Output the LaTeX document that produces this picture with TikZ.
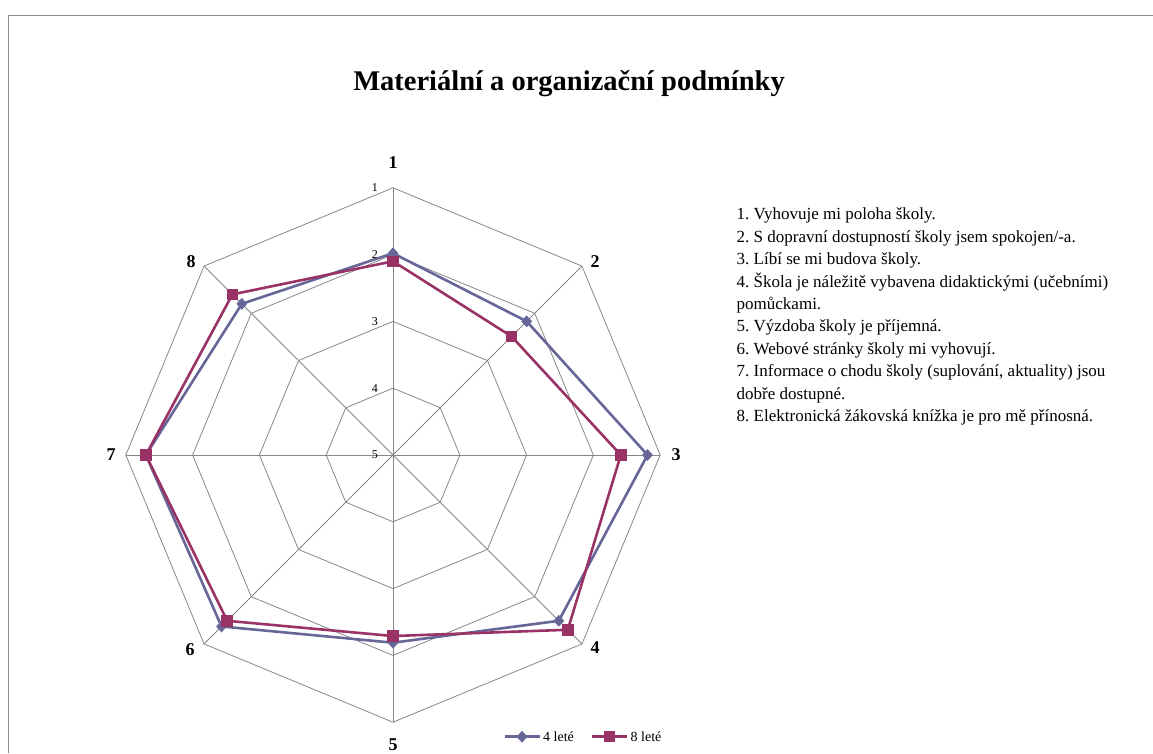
\documentclass[tikz,border=0pt]{standalone}
\usepackage{fontspec}
\setmainfont{Liberation Serif}
\usetikzlibrary{shapes.geometric}
\definecolor{ser1}{HTML}{666699}
\definecolor{ser2}{HTML}{993366}
\definecolor{gridc}{HTML}{878787}
\definecolor{framec}{HTML}{8C8C8C}
\frenchspacing
\begin{document}
\begin{tikzpicture}[x=1pt,y=1pt,
  gridline/.style={draw=gridc, line width=0.8pt},
  axlabel/.style={font=\fontsize{18}{20}\selectfont\bfseries, inner sep=0pt},
  ticklabel/.style={font=\fontsize{12}{12}\selectfont, inner sep=0pt, anchor=east},
  listline/.style={font=\fontsize{17}{20}\selectfont, inner sep=0pt, anchor=base west},
  serA/.style={draw=ser1, line width=2.6pt, line join=round},
  serB/.style={draw=ser2, line width=2.6pt, line join=round},
  markA/.style={diamond, fill=ser1, inner sep=0pt, minimum width=11pt, minimum height=12pt},
  markB/.style={rectangle, fill=ser2, inner sep=0pt, minimum size=11.5pt},
  legtext/.style={font=\fontsize{14}{14}\selectfont, inner sep=0pt, anchor=west},
]
\useasboundingbox (0,0) rectangle (1153,753);
\draw[framec, line width=1.5pt] (8.5,0) -- (8.5,737.5) -- (1153,737.5);

\node[font=\fontsize{28.5}{30}\selectfont\bfseries, anchor=base, inner sep=0pt] (title) at (569,662) {Materiální a organizační podmínky};

\begin{scope}[shift={(393,298)}]
  \coordinate (O) at (0,0);
  % rings
  \foreach \k in {1,2,3,4} {
    \pgfmathsetmacro\r{\k*66.8}
    \draw[gridline] (90:\r) \foreach \a in {45,0,-45,-90,-135,-180,-225} { -- (\a:\r) } -- cycle;
  }
  % spokes
  \foreach \a in {90,45,0,-45,-90,-135,-180,-225} \draw[gridline] (O) -- (\a:267.2);
  % data
  \foreach \v [count=\i] in {1.98,2.17,1.19,1.49,2.19,1.37,1.30,1.80} {
    \pgfmathsetmacro\a{135-45*\i}
    \pgfmathsetmacro\r{(5-\v)*66.8}
    \coordinate (A\i) at (\a:\r);
  }
  \foreach \v [count=\i] in {2.10,2.49,1.59,1.30,2.29,1.49,1.30,1.60} {
    \pgfmathsetmacro\a{135-45*\i}
    \pgfmathsetmacro\r{(5-\v)*66.8}
    \coordinate (B\i) at (\a:\r);
  }
\end{scope}

% tick labels
\foreach \k in {1,...,5} {
  \node[ticklabel] (t\k) at (378,{298+(5-\k)*66.8}) {\k};
}

% axis labels
\node[axlabel] (l1) at (393,590) {1};
\node[axlabel] (l2) at (595,491) {2};
\node[axlabel] (l3) at (676,298) {3};
\node[axlabel] (l4) at (595,105) {4};
\node[axlabel] (l5) at (393,8) {5};
\node[axlabel] (l6) at (190,103) {6};
\node[axlabel] (l7) at (111,298) {7};
\node[axlabel] (l8) at (191,491) {8};

% series lines and markers
\draw[serA] (A1) -- (A2) -- (A3) -- (A4) -- (A5) -- (A6) -- (A7) -- (A8) -- cycle;
\foreach \i in {1,...,8} \node[markA] (mA\i) at (A\i) {};
\draw[serB] (B1) -- (B2) -- (B3) -- (B4) -- (B5) -- (B6) -- (B7) -- (B8) -- cycle;
\foreach \i in {1,...,8} \node[markB] (mB\i) at (B\i) {};

% legend
\coordinate (la1) at (505,16.3);
\coordinate (la2) at (540,16.3);
\draw[serA] (la1) -- (la2);
\node[markA] (lmA) at (522,16.3) {};
\node[legtext] (ltA) at (543,16.3) {4 leté};
\coordinate (lb1) at (592,16.3);
\coordinate (lb2) at (627,16.3);
\draw[serB] (lb1) -- (lb2);
\node[markB] (lmB) at (609.5,16.3) {};
\node[legtext] (ltB) at (630.5,16.3) {8 leté};

% item list
\foreach \t [count=\j] in {
  {1. Vyhovuje mi poloha školy.},
  {2. S dopravní dostupností školy jsem spokojen/-a.},
  {3. Líbí se mi budova školy.},
  {4. Škola je náležitě vybavena didaktickými (učebními)},
  {pomůckami.},
  {5. Výzdoba školy je příjemná.},
  {6. Webové stránky školy mi vyhovují.},
  {7. Informace o chodu školy (suplování, aktuality) jsou},
  {dobře dostupné.},
  {8. Elektronická žákovská knížka je pro mě přínosná.}} {
  \node[listline] (item\j) at (736.5,{533-(\j-1)*22.4}) {\t};
}
\end{tikzpicture}
\end{document}
